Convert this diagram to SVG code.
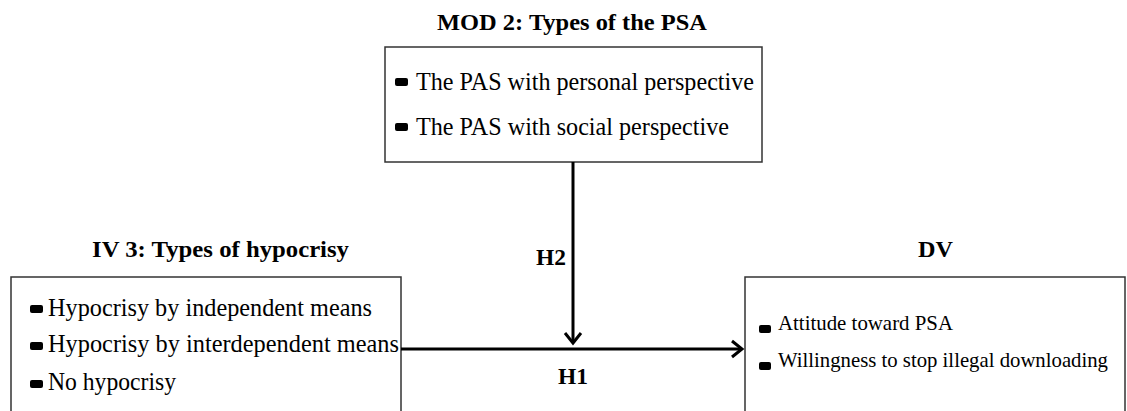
<svg xmlns="http://www.w3.org/2000/svg" width="1127" height="411" viewBox="0 0 1127 411">
<style>
.title{font-family:"Liberation Serif",serif;font-weight:bold;font-size:23px;fill:#000}
.item{font-family:"Liberation Serif",serif;font-size:26px;fill:#000}
.iv{font-family:"Liberation Serif",serif;font-size:25px;fill:#000}
.small{font-family:"Liberation Serif",serif;font-size:21px;fill:#000}
.box{fill:#fff;stroke:#333;stroke-width:1.5}
.bul{fill:#000}
.conn{stroke:#000;stroke-width:3;fill:none}
</style>
<defs>
<marker id="arr" markerUnits="userSpaceOnUse" markerWidth="20" markerHeight="20" viewBox="-12 -10 14 20" refX="0" refY="0" orient="auto">
<path d="M-10,-8 L0,0 L-10,8" fill="none" stroke="#000" stroke-width="3" stroke-linejoin="miter"/>
</marker>
</defs>
<rect width="1127" height="411" fill="#fff"/>
<g id="mod">
<text class="title" x="437" y="30" textLength="270" lengthAdjust="spacingAndGlyphs">MOD 2: Types of the PSA</text>
<rect class="box" x="385" y="47" width="377" height="115"/>
<rect class="bul" x="395" y="78" width="13" height="8" rx="2"/>
<text class="item" x="416" y="90" textLength="338" lengthAdjust="spacingAndGlyphs">The PAS with personal perspective</text>
<rect class="bul" x="395" y="123" width="13" height="8" rx="2"/>
<text class="item" x="416" y="135" textLength="313" lengthAdjust="spacingAndGlyphs">The PAS with social perspective</text>
</g>
<g id="iv">
<text class="title" x="92" y="257" textLength="257" lengthAdjust="spacingAndGlyphs">IV 3:  Types of hypocrisy</text>
<rect class="box" x="11" y="277" width="390" height="150"/>
<rect class="bul" x="30" y="305" width="13" height="8" rx="2"/>
<text class="iv" x="48" y="316" textLength="324" lengthAdjust="spacingAndGlyphs">Hypocrisy by independent means</text>
<rect class="bul" x="30" y="342" width="13" height="8" rx="2"/>
<text class="iv" x="48" y="352" textLength="351" lengthAdjust="spacingAndGlyphs">Hypocrisy by interdependent means</text>
<rect class="bul" x="30" y="380" width="13" height="8" rx="2"/>
<text class="iv" x="48" y="390" textLength="128" lengthAdjust="spacingAndGlyphs">No hypocrisy</text>
</g>
<g id="dv">
<text class="title" x="918" y="257" textLength="35" lengthAdjust="spacingAndGlyphs">DV</text>
<rect class="box" x="745" y="277" width="380" height="150"/>
<rect class="bul" x="759" y="325" width="12" height="8" rx="2"/>
<text class="small" x="778" y="330" textLength="175" lengthAdjust="spacingAndGlyphs">Attitude toward PSA</text>
<rect class="bul" x="759" y="362" width="12" height="8" rx="2"/>
<text class="small" x="778" y="367" textLength="330" lengthAdjust="spacingAndGlyphs">Willingness  to stop illegal  downloading</text>
</g>
<g id="connectors">
<line class="conn" x1="573" y1="162" x2="573" y2="343" marker-end="url(#arr)"/>
<line class="conn" x1="401" y1="349" x2="742" y2="349" marker-end="url(#arr)"/>
<text class="title" x="536" y="265" textLength="30" lengthAdjust="spacingAndGlyphs">H2</text>
<text class="title" x="558" y="384" textLength="30" lengthAdjust="spacingAndGlyphs">H1</text>
</g>
</svg>
